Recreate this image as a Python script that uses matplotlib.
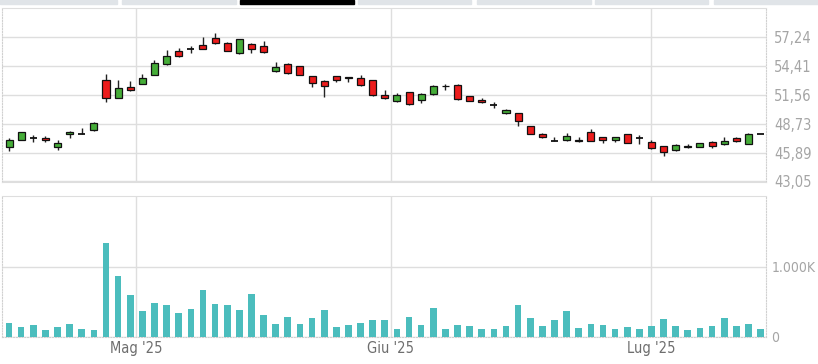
import matplotlib
matplotlib.use("Agg")
import matplotlib.pyplot as plt
import numpy as np
import pandas as pd
from matplotlib.patches import Rectangle

dates = [
    "2025-04-14", "2025-04-15", "2025-04-16", "2025-04-17", "2025-04-22",
    "2025-04-23", "2025-04-24", "2025-04-25", "2025-04-28", "2025-04-29",
    "2025-04-30", "2025-05-02", "2025-05-05", "2025-05-06", "2025-05-07",
    "2025-05-08", "2025-05-09", "2025-05-12", "2025-05-13", "2025-05-14",
    "2025-05-15", "2025-05-16", "2025-05-19", "2025-05-20", "2025-05-21",
    "2025-05-22", "2025-05-23", "2025-05-26", "2025-05-27", "2025-05-28",
    "2025-05-29", "2025-05-30", "2025-06-02", "2025-06-03", "2025-06-04",
    "2025-06-05", "2025-06-06", "2025-06-09", "2025-06-10", "2025-06-11",
    "2025-06-12", "2025-06-13", "2025-06-16", "2025-06-17", "2025-06-18",
    "2025-06-19", "2025-06-20", "2025-06-23", "2025-06-24", "2025-06-25",
    "2025-06-26", "2025-06-27", "2025-06-30", "2025-07-01", "2025-07-02",
    "2025-07-03", "2025-07-04", "2025-07-07", "2025-07-08", "2025-07-09",
    "2025-07-10", "2025-07-11", "2025-07-14",
]

opens = [46.43, 47.16, 47.35, 47.38, 46.47, 47.70, 47.76, 48.08, 53.02, 51.31,
         52.33, 52.67, 53.55, 54.61, 55.92, 56.12, 56.48, 57.14, 56.71, 55.66,
         56.61, 56.35, 53.97, 54.64, 54.41, 53.42, 52.92, 53.42, 53.30, 53.28,
         53.02, 51.57, 50.98, 51.87, 51.04, 51.67, 52.50, 52.53, 51.47, 51.05,
         50.59, 49.80, 49.76, 48.48, 47.69, 47.03, 47.10, 47.13, 47.92, 47.42,
         47.10, 47.72, 47.29, 46.94, 46.53, 46.11, 46.45, 46.43, 46.97, 46.77,
         47.33, 46.77, 47.76]
highs = [47.33, 47.95, 47.65, 47.50, 47.10, 47.98, 48.28, 48.90, 53.62, 53.02,
         52.92, 53.68, 55.00, 55.99, 56.22, 56.38, 57.24, 57.70, 56.75, 57.10,
         56.71, 56.90, 54.84, 54.74, 54.45, 53.45, 53.08, 53.48, 53.32, 53.58,
         53.05, 52.03, 51.77, 51.90, 51.80, 52.56, 52.69, 52.69, 51.50, 51.28,
         50.85, 50.23, 49.80, 48.50, 47.86, 47.42, 47.82, 47.42, 48.18, 47.45,
         47.45, 47.76, 47.59, 47.10, 46.56, 46.70, 46.70, 46.87, 47.00, 47.45,
         47.40, 47.80, 47.76]
lows = [46.05, 47.13, 46.98, 46.97, 46.14, 47.30, 47.74, 48.05, 50.88, 51.28,
        51.97, 52.60, 53.50, 54.55, 55.33, 55.73, 56.10, 56.58, 55.85, 55.60,
        55.66, 55.70, 53.84, 53.65, 53.50, 52.36, 51.37, 52.83, 52.83, 52.50,
        51.50, 51.15, 50.90, 50.60, 50.81, 51.60, 52.10, 51.10, 50.94, 50.80,
        50.26, 49.70, 48.51, 47.70, 47.29, 47.00, 47.07, 46.93, 47.03, 46.84,
        46.97, 46.84, 46.77, 46.27, 45.52, 46.05, 46.34, 46.40, 46.37, 46.60,
        46.95, 46.75, 47.76]
closes = [47.10, 47.92, 47.35, 47.10, 46.84, 47.95, 47.76, 48.84, 51.31, 52.23,
          52.07, 53.22, 54.74, 55.39, 55.36, 56.12, 56.12, 56.65, 55.92, 57.04,
          56.12, 55.76, 54.31, 53.71, 53.52, 52.76, 52.50, 53.08, 53.22, 52.53,
          51.54, 51.31, 51.57, 50.65, 51.67, 52.46, 52.47, 51.17, 51.01, 50.90,
          50.59, 50.13, 48.97, 47.76, 47.39, 47.03, 47.52, 46.99, 47.07, 47.10,
          47.42, 46.87, 47.29, 46.34, 45.95, 46.67, 46.58, 46.84, 46.53, 47.00,
          47.00, 47.76, 47.76]
volumes_k = [204, 143, 171, 95, 143, 186, 110, 95, 1338, 867,
             600, 362, 486, 457, 343, 395, 662, 471, 457, 381,
             614, 314, 186, 286, 186, 271, 381, 143, 171, 204,
             238, 238, 110, 286, 171, 414, 110, 171, 157, 110,
             110, 157, 457, 271, 157, 238, 362, 129, 186, 171,
             110, 143, 110, 157, 252, 157, 95, 129, 157, 271,
             157, 186, 110]

price_ticks = [43.05, 45.89, 48.73, 51.56, 54.41, 57.24]
price_tick_labels = ["43,05", "45,89", "48,73", "51,56", "54,41", "57,24"]
volume_ticks = [0, 1000]
volume_tick_labels = ["0", "1.000K"]
month_starts = ["2025-05-01", "2025-06-01", "2025-07-01"]
month_labels = ["Mag '25", "Giu '25", "Lug '25"]

GREEN = "#45ad38"
RED = "#ec1c1c"
TEAL = "#4bbdbd"
GRID = "#dedede"
FONT = dict(family="DejaVu Sans", fontstretch="condensed")

o = np.array(opens); h = np.array(highs); l = np.array(lows); c = np.array(closes)
v = np.array(volumes_k)
x = np.arange(len(dates))
d = pd.to_datetime(dates)
month_pos = []
for ms in pd.to_datetime(month_starts):
    i = int(np.searchsorted(d.values, ms.to_datetime64()))
    month_pos.append(i if d[i] == ms else i - 0.5)

W, H = 818, 364
fig = plt.figure(figsize=(W / 100, H / 100), dpi=100)
fig.patch.set_facecolor("white")

# top tab strip
tabs = [(0, 117), (122, 236), (240, 354), (358, 471), (477, 591), (595, 708), (714, 818)]
for k, (a, b) in enumerate(tabs):
    fig.patches.append(Rectangle((a / W, 1 - 3.5 / H), (b - a) / W, 3.5 / H,
                                 transform=fig.transFigure,
                                 color="black" if k == 2 else "#e0e4e8", zorder=0))

ax = fig.add_axes([2 / W, 1 - 182 / H, 764 / W, (182 - 7.5) / H])
axv = fig.add_axes([2 / W, 1 - 337 / H, 764 / W, (337 - 196) / H])

xlim = (-0.58, 62.45)
for a in (ax, axv):
    a.set_xlim(*xlim)
    a.set_xticks(month_pos)
    a.grid(True, color=GRID, lw=1, zorder=0)
    a.set_axisbelow(True)
    for s in ("left", "right"):
        a.spines[s].set_color("#d0d0d0")
        a.spines[s].set_linestyle((0, (1, 1.5)))
        a.spines[s].set_linewidth(0.8)
    a.spines["top"].set_color(GRID)
    a.spines["bottom"].set_color(GRID)
    a.tick_params(length=0)

# candles
ax.vlines(x, l, h, color="#222222", lw=1.0, zorder=2)
body_lo = np.minimum(o, c)
body_h = np.abs(c - o)
colors = np.where(c > o, GREEN, RED)
mask = body_h > 0.005
ax.bar(x[mask], body_h[mask], bottom=body_lo[mask], width=0.58,
       color=colors[mask], edgecolor="#111111", linewidth=0.9, zorder=3)
ax.hlines(c[~mask], x[~mask] - 0.29, x[~mask] + 0.29, color="#111111", lw=1.3, zorder=3)

ax.set_ylim(43.0, 60.18)
ax.yaxis.tick_right()
ax.set_yticks(price_ticks)
ax.set_yticklabels(price_tick_labels, fontsize=10.5, color="#a5a5a5", **FONT)
ax.tick_params(axis="y", pad=6)
ax.set_xticklabels([])

axv.bar(x, v, width=0.55, color=TEAL, zorder=3)
axv.set_ylim(0, 2000)
axv.yaxis.tick_right()
axv.set_yticks(volume_ticks)
axv.set_yticklabels(volume_tick_labels, fontsize=10, color="#a5a5a5", **FONT)
axv.tick_params(axis="y", pad=4)
axv.set_xticklabels(month_labels, fontsize=10.5, color="#6e6e6e", **FONT)
axv.tick_params(axis="x", pad=3)
axv.spines["bottom"].set_linestyle((0, (1, 1.5)))
axv.spines["bottom"].set_color("#cfcfcf")

fig.savefig("out.png", dpi=100)
